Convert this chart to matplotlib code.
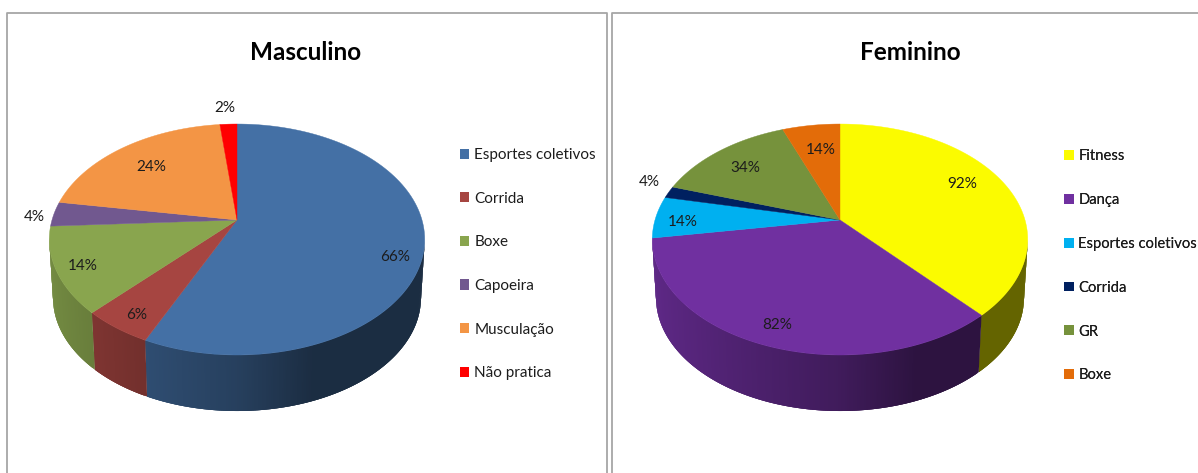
import numpy as np
import matplotlib
matplotlib.use('Agg')
import matplotlib.pyplot as plt
from matplotlib.colors import to_rgb
from matplotlib.patches import Patch

plt.rcParams['font.family'] = ['Lato', 'DejaVu Sans']

# Masculino
labels_m = ['Esportes coletivos', 'Corrida', 'Boxe', 'Capoeira', 'Musculação', 'Não pratica']
values_m = [66, 6, 14, 4, 24, 2]
colors_m = ['#4470a5', '#a64541', '#89a54e', '#71588f', '#f39545', '#ff0000']

# Feminino
labels_f = ['Fitness', 'Dança', 'Esportes coletivos', 'Corrida', 'GR', 'Boxe']
values_f = [92, 82, 14, 4, 34, 14]
colors_f = ['#fbfb00', '#7030a0', '#00b0f0', '#002060', '#76923c', '#e36c09']

# where the percentage labels sit, in pixels
label_pos_m = [(395, 257), (137, 315), (83, 266), (34, 217), (151, 167), (225, 108)]
label_pos_f = [(962, 184), (777, 325), (683, 222), (649, 182), (745, 168), (821, 150)]

# pie geometry
R = 185
A = 112.2
P = 0.169
APEX_Y = 220
DEPTH = 58.7
RIM_SCALE = 0.98


def project(cx, ang, scale=1.0, drop=0.0):
    # angle is clockwise from 12 o'clock, back of the disc is foreshortened
    u = np.sin(ang)
    v = np.cos(ang)
    s = scale / (1 + P * v)
    return cx + R * u * s, APEX_Y - A * v * s + drop


def side_shade(ang):
    return np.interp(np.sin(ang), [-1, 0, 0.35, 1], [0.85, 0.57, 0.40, 0.40])


def draw_pie(ax, cx, values, colors, label_pos):
    edges = np.cumsum([0] + values) / sum(values) * 2 * np.pi

    # side wall first, strips overlap a little so no seams show between them
    for i in range(len(values)):
        base = np.array(to_rgb(colors[i]))
        n = int(np.degrees(edges[i + 1] - edges[i]) * 2) + 2
        steps = np.linspace(edges[i], edges[i + 1], n)
        for a0, a1 in zip(steps[:-1], steps[1:]):
            mid = (a0 + a1) / 2
            if np.cos(mid) > -P:
                continue  # behind the silhouette of the disc
            end = min(a1 + np.radians(1.0), edges[i + 1])
            arc = np.linspace(a0, end, 5)
            x_top, y_top = project(cx, arc)
            x_bot, y_bot = project(cx, arc[::-1], RIM_SCALE, DEPTH)
            shade = base * side_shade(mid)
            ax.fill(np.r_[x_top, x_bot], np.r_[y_top, y_bot], color=shade, lw=0, zorder=2)

    # top face
    for i in range(len(values)):
        ang = np.linspace(edges[i], edges[i + 1], 120)
        x, y = project(cx, ang)
        ax.fill(np.r_[cx, x], np.r_[APEX_Y, y], color=colors[i], lw=0.3, zorder=3)

    for val, pos in zip(values, label_pos):
        ax.text(pos[0], pos[1], '%d%%' % val, fontsize=11, color='#1c1c1c',
                ha='center', va='center', zorder=4)


def add_legend(ax, labels, colors, x, y, size, spacing):
    handles = [Patch(facecolor=c, edgecolor='none') for c in colors]
    leg = ax.legend(handles, labels, loc='upper left', bbox_to_anchor=(x, y),
                    bbox_transform=ax.transData, frameon=False, fontsize=size,
                    handlelength=0.65, handleheight=0.65, handletextpad=0.33,
                    labelspacing=spacing, borderpad=0, borderaxespad=0)
    for t in leg.get_texts():
        t.set_color('#1c1c1c')
    ax.add_artist(leg)


fig = plt.figure(figsize=(11.98, 4.73), dpi=100)
ax = fig.add_axes([0, 0, 1, 1])
ax.set_xlim(0, 1198)
ax.set_ylim(473, 0)
ax.axis('off')

# chart frames run off the bottom and right of the canvas
frame = '#a6a6a6'
ax.plot([7, 7, 607, 607], [473, 13.5, 13.5, 473], color=frame, lw=1.3)
ax.plot([611.5, 611.5, 1198], [473, 13.5, 13.5], color=frame, lw=1.3)

ax.text(306, 53, 'Masculino', fontsize=17.5, fontweight='bold', ha='center', va='center')
ax.text(910, 53, 'Feminino', fontsize=17.5, fontweight='bold', ha='center', va='center')

draw_pie(ax, 237, values_m, colors_m, label_pos_m)
draw_pie(ax, 840, values_f, colors_f, label_pos_f)

add_legend(ax, labels_m, colors_m, 459.5, 148, 11, 1.94)
add_legend(ax, labels_f, colors_f, 1064, 149, 10.6, 2.03)

fig.savefig('out.png', dpi=100)
